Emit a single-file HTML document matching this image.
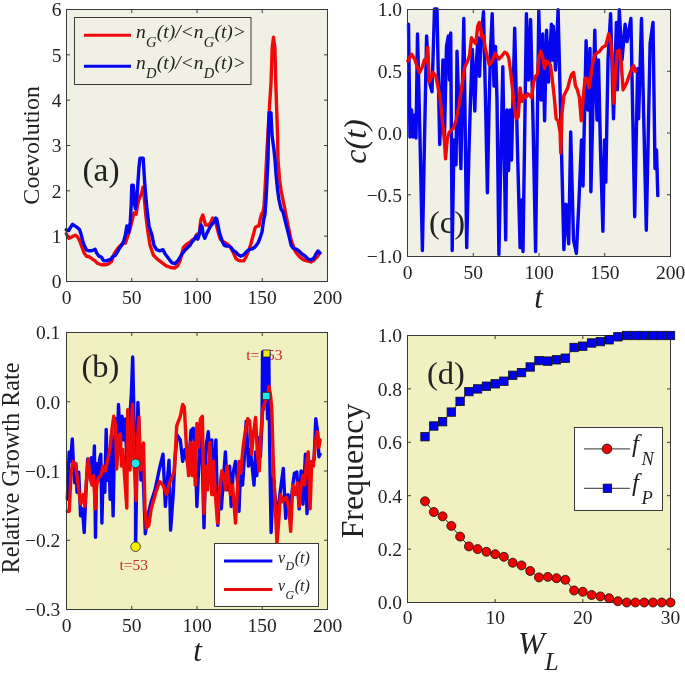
<!DOCTYPE html>
<html><head><meta charset="utf-8"><style>
html,body{margin:0;padding:0;background:#fff;}
svg{display:block;will-change:transform;}
text{font-family:"Liberation Serif", serif;}
</style></head><body>
<svg width="685" height="675" viewBox="0 0 685 675">
<rect width="685" height="675" fill="#fff"/>
<rect x="66.5" y="9.5" width="261.0" height="272.0" fill="#f1f0e5"/>
<polyline points="66.3,233.7 68.7,238.3 71.0,237.5 73.3,236.0 75.7,235.2 78.0,237.5 79.6,240.7 81.9,246.9 84.2,253.1 86.5,256.2 89.7,257.0 92.8,259.3 95.1,260.9 97.4,263.2 101.3,264.8 105.2,264.8 108.3,264.0 111.4,261.7 114.5,253.1 117.7,248.4 120.8,245.3 123.9,241.4 125.4,243.2 127.5,236.8 129.7,230.3 131.8,221.7 134.0,213.1 136.1,214.2 137.6,204.5 139.4,198.1 141.5,193.8 143.0,187.3 144.1,195.9 145.8,215.3 148.0,232.5 150.1,245.4 153.3,255.0 157.6,259.4 161.9,262.6 166.2,265.8 170.5,267.5 174.8,268.0 177.6,265.8 180.2,260.4 183.4,247.5 186.7,244.3 190.0,242.2 192.3,239.9 194.7,238.3 197.0,234.4 199.3,232.9 200.9,219.7 202.8,215.0 204.3,220.4 205.6,225.1 207.9,225.1 210.2,223.5 212.6,218.1 214.1,220.4 215.7,222.0 217.2,228.2 218.8,234.4 220.3,239.1 222.7,241.4 225.8,243.0 228.9,245.3 231.2,248.4 233.5,253.1 235.9,258.5 238.2,260.1 240.5,260.9 243.7,260.9 246.0,257.0 248.3,251.5 250.7,244.5 253.0,236.0 255.3,227.4 257.7,225.9 259.0,226.0 260.0,220.0 261.6,214.0 263.0,212.0 264.0,206.0 265.0,190.0 266.0,170.0 267.0,150.0 267.8,136.8 269.6,104.7 271.0,83.4 272.2,47.8 273.5,37.1 274.9,47.8 275.8,83.4 276.7,110.0 277.6,136.8 278.0,160.0 279.6,180.0 281.0,190.0 283.0,200.0 285.0,210.0 287.0,220.0 289.0,230.0 291.0,240.0 293.0,245.0 295.0,251.0 298.0,255.0 301.0,258.0 304.0,260.0 308.0,261.0 311.0,262.0 314.0,260.0 317.0,257.0 319.0,254.0" fill="none" stroke="#ee0a0a" stroke-width="3.4" stroke-linejoin="round" stroke-linecap="round" />
<polyline points="66.3,229.8 68.7,230.5 71.0,226.7 72.6,224.3 74.9,225.9 77.2,227.4 79.6,229.8 81.1,234.4 82.7,240.7 84.2,245.3 86.5,250.0 88.9,250.8 91.2,250.8 93.5,250.0 95.1,249.2 96.7,253.1 99.0,256.2 101.3,257.0 103.7,260.9 106.0,260.9 108.3,260.1 110.7,259.3 113.0,256.2 115.3,255.4 117.7,251.5 120.0,247.5 123.2,243.2 125.4,234.6 126.9,226.0 128.6,232.5 130.3,221.7 131.2,204.5 131.8,185.2 133.3,185.2 134.6,204.5 135.5,208.8 137.2,193.8 138.9,168.0 140.0,158.3 143.2,158.3 144.7,183.0 146.9,208.8 149.0,226.0 151.8,234.6 154.0,245.4 156.6,249.7 159.8,250.8 163.0,249.7 165.2,254.0 168.4,258.3 171.6,262.6 174.8,263.7 178.1,260.4 181.3,255.0 184.5,250.8 187.7,247.5 190.0,245.3 192.3,241.4 194.7,239.1 196.2,236.0 197.8,239.1 199.3,234.4 200.9,225.1 202.1,226.7 203.2,234.4 204.8,238.3 206.3,234.4 207.9,231.3 210.2,226.7 212.6,223.5 214.1,222.0 215.7,218.1 216.7,218.9 218.0,225.1 219.5,232.9 221.1,237.5 222.7,242.2 224.2,245.3 226.5,246.1 228.9,246.1 231.2,247.7 233.5,250.8 235.9,252.3 238.2,254.7 240.5,256.2 242.9,255.4 245.2,253.1 247.5,250.8 249.9,249.2 252.0,249.0 255.0,247.0 258.0,243.0 260.0,238.0 262.0,232.0 263.6,220.0 265.0,214.0 266.0,200.0 267.0,180.0 268.0,160.0 268.5,130.0 269.2,112.7 271.0,112.7 271.5,125.0 272.2,136.8 274.0,150.0 275.0,160.0 276.0,174.0 277.6,190.0 279.0,200.0 281.0,209.0 283.0,212.0 285.0,220.0 287.0,228.0 289.0,236.0 291.0,245.0 293.0,248.0 296.0,249.0 299.0,251.0 302.0,254.0 305.0,256.0 308.0,259.0 311.0,260.0 314.0,258.0 316.0,254.0 318.0,251.0 320.0,253.0" fill="none" stroke="#0505f0" stroke-width="3.4" stroke-linejoin="round" stroke-linecap="round" />
<text x="101" y="180.7" font-size="33.5" text-anchor="middle" fill="#222"  >(a)</text>
<rect x="74.5" y="17.5" width="176.5" height="67" fill="#f1f0e5" stroke="#3a3a3a" stroke-width="1"/>
<line x1="84" y1="35.3" x2="131" y2="35.3" stroke="#ee0a0a" stroke-width="3"/>
<line x1="84" y1="66.3" x2="131" y2="66.3" stroke="#0505f0" stroke-width="3"/>
<text x="136" y="37.8" font-size="19.5" font-style="italic" fill="#222">n<tspan font-size="14.5" dy="9.5" dx="0.3">G</tspan><tspan dy="-9.5" dx="0.2">(t)/&lt;n</tspan><tspan font-size="14.5" dy="9.5" dx="0.3">G</tspan><tspan dy="-9.5" dx="0.2">(t)&gt;</tspan></text>
<text x="136" y="68.8" font-size="19.5" font-style="italic" fill="#222">n<tspan font-size="14.5" dy="9.5" dx="0.3">D</tspan><tspan dy="-9.5" dx="0.2">(t)/&lt;n</tspan><tspan font-size="14.5" dy="9.5" dx="0.3">D</tspan><tspan dy="-9.5" dx="0.2">(t)&gt;</tspan></text>
<rect x="66.5" y="9.5" width="261.0" height="272.0" fill="none" stroke="#3a3a3a" stroke-width="1"/><line x1="131.75" y1="281.5" x2="131.75" y2="278.0" stroke="#3a3a3a" stroke-width="1"/><line x1="131.75" y1="9.5" x2="131.75" y2="13.0" stroke="#3a3a3a" stroke-width="1"/><line x1="197.0" y1="281.5" x2="197.0" y2="278.0" stroke="#3a3a3a" stroke-width="1"/><line x1="197.0" y1="9.5" x2="197.0" y2="13.0" stroke="#3a3a3a" stroke-width="1"/><line x1="262.25" y1="281.5" x2="262.25" y2="278.0" stroke="#3a3a3a" stroke-width="1"/><line x1="262.25" y1="9.5" x2="262.25" y2="13.0" stroke="#3a3a3a" stroke-width="1"/><line x1="66.5" y1="236.16666666666666" x2="70.0" y2="236.16666666666666" stroke="#3a3a3a" stroke-width="1"/><line x1="327.5" y1="236.16666666666666" x2="324.0" y2="236.16666666666666" stroke="#3a3a3a" stroke-width="1"/><line x1="66.5" y1="190.83333333333331" x2="70.0" y2="190.83333333333331" stroke="#3a3a3a" stroke-width="1"/><line x1="327.5" y1="190.83333333333331" x2="324.0" y2="190.83333333333331" stroke="#3a3a3a" stroke-width="1"/><line x1="66.5" y1="145.5" x2="70.0" y2="145.5" stroke="#3a3a3a" stroke-width="1"/><line x1="327.5" y1="145.5" x2="324.0" y2="145.5" stroke="#3a3a3a" stroke-width="1"/><line x1="66.5" y1="100.16666666666666" x2="70.0" y2="100.16666666666666" stroke="#3a3a3a" stroke-width="1"/><line x1="327.5" y1="100.16666666666666" x2="324.0" y2="100.16666666666666" stroke="#3a3a3a" stroke-width="1"/><line x1="66.5" y1="54.83333333333334" x2="70.0" y2="54.83333333333334" stroke="#3a3a3a" stroke-width="1"/><line x1="327.5" y1="54.83333333333334" x2="324.0" y2="54.83333333333334" stroke="#3a3a3a" stroke-width="1"/>
<text x="66.5" y="303.7" font-size="19.5" text-anchor="middle" fill="#222"  >0</text>
<text x="131.8" y="303.7" font-size="19.5" text-anchor="middle" fill="#222"  >50</text>
<text x="197.0" y="303.7" font-size="19.5" text-anchor="middle" fill="#222"  >100</text>
<text x="262.2" y="303.7" font-size="19.5" text-anchor="middle" fill="#222"  >150</text>
<text x="327.5" y="303.7" font-size="19.5" text-anchor="middle" fill="#222"  >200</text>
<text x="61.5" y="288.3" font-size="19.5" text-anchor="end" fill="#222"  >0</text>
<text x="61.5" y="243.0" font-size="19.5" text-anchor="end" fill="#222"  >1</text>
<text x="61.5" y="197.6" font-size="19.5" text-anchor="end" fill="#222"  >2</text>
<text x="61.5" y="152.3" font-size="19.5" text-anchor="end" fill="#222"  >3</text>
<text x="61.5" y="107.0" font-size="19.5" text-anchor="end" fill="#222"  >4</text>
<text x="61.5" y="61.6" font-size="19.5" text-anchor="end" fill="#222"  >5</text>
<text x="61.5" y="16.3" font-size="19.5" text-anchor="end" fill="#222"  >6</text>
<text transform="translate(38.8,145.3) rotate(-90)" font-size="24" text-anchor="middle" fill="#222">Coevolution</text>
<rect x="407.5" y="9.5" width="263.0" height="247.0" fill="#f1f0e5"/>
<text x="447" y="232.5" font-size="32.5" text-anchor="middle" fill="#222"  >(c)</text>
<polyline points="408.5,24.3 410.0,137.0 411.5,110.0 413.0,137.0 414.5,115.0 416.0,138.0 417.5,33.9 420.0,138.0 422.4,250.5 424.5,140.0 426.6,35.9 429.0,80.0 432.0,91.8 434.5,9.0 437.0,9.0 439.7,144.5 443.0,60.0 444.5,135.0 446.5,46.5 448.4,35.9 449.5,80.0 450.7,33.0 452.2,250.5 454.0,140.0 456.1,164.7 457.0,51.3 460.9,168.6 463.8,18.5 466.7,247.6 469.0,150.0 470.5,100.0 472.3,49.4 474.8,111.0 476.5,60.0 478.0,37.8 479.5,76.3 481.0,40.0 483.5,11.7 485.5,100.0 487.4,192.7 489.0,110.0 490.5,50.0 492.2,13.7 494.0,86.0 495.5,46.5 497.0,100.0 498.9,254.4 501.0,150.0 502.8,66.7 505.7,239.9 507.0,110.0 508.6,170.5 510.0,110.0 511.5,160.0 514.7,28.1 517.5,150.0 520.1,247.6 521.5,200.0 523.0,251.5 526.4,13.7 528.5,80.0 530.6,19.5 533.0,120.0 535.6,251.5 538.8,10.8 541.0,100.0 542.7,33.9 544.6,120.7 546.6,30.1 548.5,82.0 551.4,24.3 552.4,60.0 553.3,26.2 555.5,70.0 558.1,9.8 561.0,130.0 563.9,249.6 565.9,204.2 568.7,243.8 570.7,131.9 573.5,240.0 576.4,253.4 579.0,200.0 581.5,140.0 583.0,186.0 586.1,40.7 588.0,110.0 590.0,48.4 590.9,191.7 594.8,30.1 597.0,120.0 598.5,60.0 600.5,150.0 602.9,231.2 604.5,140.0 605.8,182.1 608.0,60.0 610.6,13.7 613.5,118.8 616.4,22.4 617.4,89.8 619.3,9.8 622.0,60.0 625.1,24.3 627.0,41.6 630.9,18.5 634.7,216.8 637.6,68.6 638.6,118.8 641.5,18.5 646.3,230.3 650.1,43.6 653.0,22.4 655.0,168.6 656.5,150.0 657.8,195.6" fill="none" stroke="#0505f0" stroke-width="3.4" stroke-linejoin="round" stroke-linecap="round" />
<polyline points="407.9,60.9 411.7,54.2 414.6,59.0 416.6,64.8 419.5,72.5 422.4,66.7 424.3,60.0 426.2,61.9 427.8,47.4 429.1,82.1 431.0,78.3 433.0,72.5 435.9,76.3 437.8,86.0 439.7,95.6 441.6,113.0 443.6,132.3 444.5,141.6 445.5,158.9 447.4,137.7 449.3,132.3 453.2,128.4 456.1,120.7 459.0,105.3 461.9,86.0 464.8,66.7 467.7,60.9 469.6,55.1 471.5,37.8 473.9,41.6 475.8,43.6 477.7,26.2 479.3,22.4 480.6,28.1 482.0,37.8 483.5,35.9 485.4,49.4 487.4,57.1 489.3,64.8 491.2,62.8 493.1,59.0 495.1,53.2 497.0,56.1 498.9,59.0 501.8,56.1 504.7,52.2 506.6,53.2 508.6,57.1 510.5,70.6 512.4,87.9 514.4,107.2 516.3,118.8 518.2,116.8 520.1,87.9 522.1,101.4 524.0,95.6 525.9,97.6 527.8,93.7 529.8,95.6 531.7,97.6 533.6,82.1 535.6,76.3 537.5,74.4 538.9,57.1 540.8,51.3 542.7,57.1 544.6,68.6 546.6,60.9 548.5,62.8 550.4,64.8 552.4,80.2 554.3,97.6 556.2,118.8 558.1,120.7 560.1,132.3 560.8,153.0 562.0,113.0 563.9,95.6 565.9,91.8 567.8,87.9 569.7,80.2 571.6,74.4 573.6,72.5 575.5,86.0 577.4,89.8 579.4,97.6 581.3,120.7 583.2,97.6 585.1,78.3 587.1,78.3 589.0,87.9 590.9,76.3 592.8,62.8 594.8,55.1 596.7,53.2 599.6,51.3 602.5,47.4 605.8,45.5 608.7,33.9 610.6,39.7 612.5,62.8 613.9,103.3 615.4,76.3 617.4,51.3 619.3,50.3 621.2,62.8 623.1,89.8 625.1,86.0 627.0,82.1 628.9,76.3 631.8,68.6 633.7,65.7 635.7,71.5" fill="none" stroke="#ee0a0a" stroke-width="3.4" stroke-linejoin="round" stroke-linecap="round" />
<rect x="407.5" y="9.5" width="263.0" height="247.0" fill="none" stroke="#3a3a3a" stroke-width="1"/><line x1="473.25" y1="256.5" x2="473.25" y2="253.0" stroke="#3a3a3a" stroke-width="1"/><line x1="473.25" y1="9.5" x2="473.25" y2="13.0" stroke="#3a3a3a" stroke-width="1"/><line x1="539.0" y1="256.5" x2="539.0" y2="253.0" stroke="#3a3a3a" stroke-width="1"/><line x1="539.0" y1="9.5" x2="539.0" y2="13.0" stroke="#3a3a3a" stroke-width="1"/><line x1="604.75" y1="256.5" x2="604.75" y2="253.0" stroke="#3a3a3a" stroke-width="1"/><line x1="604.75" y1="9.5" x2="604.75" y2="13.0" stroke="#3a3a3a" stroke-width="1"/><line x1="407.5" y1="194.75" x2="411.0" y2="194.75" stroke="#3a3a3a" stroke-width="1"/><line x1="670.5" y1="194.75" x2="667.0" y2="194.75" stroke="#3a3a3a" stroke-width="1"/><line x1="407.5" y1="133.0" x2="411.0" y2="133.0" stroke="#3a3a3a" stroke-width="1"/><line x1="670.5" y1="133.0" x2="667.0" y2="133.0" stroke="#3a3a3a" stroke-width="1"/><line x1="407.5" y1="71.25" x2="411.0" y2="71.25" stroke="#3a3a3a" stroke-width="1"/><line x1="670.5" y1="71.25" x2="667.0" y2="71.25" stroke="#3a3a3a" stroke-width="1"/>
<text x="407.5" y="279" font-size="19.5" text-anchor="middle" fill="#222"  >0</text>
<text x="473.2" y="279" font-size="19.5" text-anchor="middle" fill="#222"  >50</text>
<text x="539.0" y="279" font-size="19.5" text-anchor="middle" fill="#222"  >100</text>
<text x="604.8" y="279" font-size="19.5" text-anchor="middle" fill="#222"  >150</text>
<text x="670.5" y="279" font-size="19.5" text-anchor="middle" fill="#222"  >200</text>
<text x="402" y="263.3" font-size="19.5" text-anchor="end" fill="#222"  >&#8722;1.0</text>
<text x="402" y="201.6" font-size="19.5" text-anchor="end" fill="#222"  >&#8722;0.5</text>
<text x="402" y="139.8" font-size="19.5" text-anchor="end" fill="#222"  >0.0</text>
<text x="402" y="78.0" font-size="19.5" text-anchor="end" fill="#222"  >0.5</text>
<text x="402" y="16.3" font-size="19.5" text-anchor="end" fill="#222"  >1.0</text>
<text transform="translate(365.5,141.5) rotate(-90)" font-size="32" font-style="italic" text-anchor="middle" fill="#222">c(t)</text>
<text x="538.5" y="308" font-size="31" text-anchor="middle" fill="#222" font-style="italic" >t</text>
<rect x="66.5" y="332.5" width="261.0" height="277.0" fill="#f1f0c1"/>
<text x="100.5" y="376.8" font-size="32.5" text-anchor="middle" fill="#222"  >(b)</text>
<text x="264.4" y="360.2" font-size="15.5" text-anchor="middle" fill="#c62828">t=153</text>
<polyline points="67.3,499.3 69.2,451.9 70.6,461.4 72.3,438.9 73.5,466.1 74.7,482.7 75.9,463.8 77.0,492.2 78.7,472.1 80.6,515.9 82.5,508.8 84.2,532.5 85.8,494.6 87.7,459.0 89.6,473.3 91.3,457.8 92.9,482.7 94.4,446.0 95.5,537.3 96.7,463.8 97.9,480.4 99.6,459.0 100.8,454.3 101.9,523.0 103.1,473.3 104.8,492.2 106.2,429.4 107.4,480.4 109.1,461.4 110.2,499.3 111.4,435.3 113.1,515.9 114.3,454.3 115.7,418.7 117.4,447.2 118.5,404.5 120.4,444.8 122.1,416.3 124.0,440.0 125.5,419.0 127.0,470.0 129.0,430.0 131.3,395.0 132.7,356.9 134.0,420.0 135.5,463.3 135.6,546.7 136.8,470.0 137.9,402.4 139.5,440.0 141.0,480.0 143.0,470.0 145.3,533.7 148.0,515.0 151.2,501.7 155.0,490.0 159.5,468.5 163.0,454.2 165.4,506.4 169.0,460.2 170.6,530.1 173.2,494.6 174.8,460.0 177.2,435.3 180.3,440.0 182.7,461.4 185.0,449.5 188.6,468.5 191.0,430.6 193.3,428.2 195.7,466.1 196.9,506.5 199.3,454.3 201.6,432.9 204.0,527.8 205.9,447.2 208.3,431.8 209.9,461.4 211.8,440.0 213.5,494.6 215.9,440.0 217.8,525.4 219.4,494.6 221.3,508.8 223.0,485.1 225.4,451.9 227.2,489.9 229.6,466.1 231.2,506.5 233.1,473.3 235.5,461.4 237.4,480.4 239.0,511.2 240.7,466.1 242.6,485.1 244.5,454.3 246.2,421.1 247.3,440.0 248.5,466.1 250.2,449.5 252.1,466.1 254.0,485.1 255.6,451.9 256.8,475.6 258.7,437.7 260.4,456.7 262.0,423.5 262.6,352.0 263.5,409.2 264.5,352.0 265.5,400.0 266.5,352.0 267.5,418.7 268.8,352.0 269.6,442.4 271.1,532.5 273.4,478.0 275.8,506.5 277.4,513.6 280.2,492.2 283.3,468.5 285.7,518.3 288.0,494.6 290.4,508.8 292.8,485.1 294.4,473.3 296.8,472.1 299.2,508.8 301.1,470.9 303.0,504.1 305.4,454.3 307.0,513.6 309.4,461.4 311.8,466.1 314.1,459.0 315.8,418.7 317.7,432.9 318.9,456.7 320.1,454.3" fill="none" stroke="#0505f0" stroke-width="3.4" stroke-linejoin="round" stroke-linecap="round" />
<polyline points="67.3,511.2 69.2,511.2 71.1,473.3 73.0,461.4 75.4,463.8 77.0,475.6 78.7,489.9 80.6,504.1 83.0,494.6 84.9,506.5 86.5,480.4 88.2,459.0 90.1,478.0 92.0,485.1 93.6,475.6 95.3,508.8 96.7,485.1 98.4,478.0 100.8,475.6 103.1,466.1 105.5,470.9 107.9,459.0 110.2,447.2 112.1,428.2 113.8,416.3 115.7,425.8 116.6,469.0 119.0,435.3 120.3,433.9 121.5,466.0 122.8,449.5 124.5,475.0 126.8,508.0 127.7,409.8 130.0,470.0 132.4,404.3 134.0,460.0 136.1,500.6 137.5,440.0 138.9,417.2 140.5,470.0 142.0,450.0 143.5,443.1 145.0,510.0 146.3,528.0 148.8,525.4 151.2,508.8 155.9,492.2 159.5,481.5 163.0,485.1 166.6,494.5 169.7,482.7 172.5,475.6 174.4,470.9 176.7,425.8 180.3,416.3 182.7,404.5 184.3,406.9 186.2,442.4 188.6,475.6 190.5,442.4 192.2,475.6 193.8,442.4 195.2,485.1 196.9,423.5 198.6,447.2 200.5,418.7 202.4,416.3 204.0,513.6 205.9,466.1 207.6,489.9 209.9,442.4 211.8,494.6 213.5,461.4 215.4,494.6 217.5,523.0 219.4,489.9 221.8,470.9 223.7,475.6 225.4,489.9 227.0,466.1 228.9,480.4 230.3,494.6 232.6,485.1 235.5,523.0 237.4,489.9 239.0,461.4 240.7,473.3 243.1,447.2 245.4,430.6 247.8,418.7 249.7,421.1 251.6,454.3 253.5,432.9 255.6,417.5 257.3,451.9 259.2,470.9 261.1,430.6 262.8,409.2 265.1,402.1 267.5,395.0 269.0,386.5 270.5,395.0 271.8,409.2 273.4,466.1 275.8,518.3 277.0,543.2 278.6,523.0 280.5,494.6 282.9,501.7 284.0,499.3 286.4,497.0 288.8,508.8 290.7,531.4 292.8,485.1 295.2,494.6 297.5,482.7 299.2,506.5 301.1,485.1 303.0,475.6 304.6,485.1 306.3,463.8 308.2,451.9 310.1,508.8 311.8,461.4 313.4,466.1 315.3,442.4 317.2,431.8 318.9,447.2 320.1,440.0" fill="none" stroke="#ee0a0a" stroke-width="3.4" stroke-linejoin="round" stroke-linecap="round" />
<rect x="263" y="350" width="7" height="7" fill="#f5f000" stroke="#222" stroke-width="0.8"/>
<rect x="262.6" y="392.3" width="7.4" height="7.4" fill="#20e8e8" stroke="#222" stroke-width="0.8"/>
<circle cx="135.6" cy="463.3" r="4.4" fill="#20e8e8" stroke="#222" stroke-width="0.8"/>
<circle cx="135.6" cy="546.7" r="4.8" fill="#f5f000" stroke="#222" stroke-width="0.8"/>
<text x="133.7" y="570.3" font-size="15.5" text-anchor="middle" fill="#c62828">t=53</text>
<rect x="214.5" y="543.5" width="104" height="63" fill="#ffffff" stroke="#3a3a3a" stroke-width="1"/>
<line x1="224" y1="561.1" x2="272.4" y2="561.1" stroke="#0505f0" stroke-width="3"/>
<line x1="224" y1="589.5" x2="272.4" y2="589.5" stroke="#ee0a0a" stroke-width="3"/>
<text x="278" y="562.5" font-size="16" font-style="italic" fill="#222">v<tspan font-size="12" dy="7.5" dx="0.5">D</tspan><tspan dy="-7.5" dx="0.5">(t)</tspan></text>
<text x="278" y="591" font-size="16" font-style="italic" fill="#222">v<tspan font-size="12" dy="7.5" dx="0.5">G</tspan><tspan dy="-7.5" dx="0.5">(t)</tspan></text>
<rect x="66.5" y="332.5" width="261.0" height="277.0" fill="none" stroke="#3a3a3a" stroke-width="1"/><line x1="131.75" y1="609.5" x2="131.75" y2="606.0" stroke="#3a3a3a" stroke-width="1"/><line x1="131.75" y1="332.5" x2="131.75" y2="336.0" stroke="#3a3a3a" stroke-width="1"/><line x1="197.0" y1="609.5" x2="197.0" y2="606.0" stroke="#3a3a3a" stroke-width="1"/><line x1="197.0" y1="332.5" x2="197.0" y2="336.0" stroke="#3a3a3a" stroke-width="1"/><line x1="262.25" y1="609.5" x2="262.25" y2="606.0" stroke="#3a3a3a" stroke-width="1"/><line x1="262.25" y1="332.5" x2="262.25" y2="336.0" stroke="#3a3a3a" stroke-width="1"/><line x1="66.5" y1="540.25" x2="70.0" y2="540.25" stroke="#3a3a3a" stroke-width="1"/><line x1="327.5" y1="540.25" x2="324.0" y2="540.25" stroke="#3a3a3a" stroke-width="1"/><line x1="66.5" y1="471.0" x2="70.0" y2="471.0" stroke="#3a3a3a" stroke-width="1"/><line x1="327.5" y1="471.0" x2="324.0" y2="471.0" stroke="#3a3a3a" stroke-width="1"/><line x1="66.5" y1="401.75" x2="70.0" y2="401.75" stroke="#3a3a3a" stroke-width="1"/><line x1="327.5" y1="401.75" x2="324.0" y2="401.75" stroke="#3a3a3a" stroke-width="1"/>
<text x="66.5" y="632" font-size="19.5" text-anchor="middle" fill="#222"  >0</text>
<text x="131.8" y="632" font-size="19.5" text-anchor="middle" fill="#222"  >50</text>
<text x="197.0" y="632" font-size="19.5" text-anchor="middle" fill="#222"  >100</text>
<text x="262.2" y="632" font-size="19.5" text-anchor="middle" fill="#222"  >150</text>
<text x="327.5" y="632" font-size="19.5" text-anchor="middle" fill="#222"  >200</text>
<text x="60.3" y="616.3" font-size="19.5" text-anchor="end" fill="#222"  >&#8722;0.3</text>
<text x="60.3" y="547.0" font-size="19.5" text-anchor="end" fill="#222"  >&#8722;0.2</text>
<text x="60.3" y="477.8" font-size="19.5" text-anchor="end" fill="#222"  >&#8722;0.1</text>
<text x="60.3" y="408.6" font-size="19.5" text-anchor="end" fill="#222"  >0.0</text>
<text x="60.3" y="339.3" font-size="19.5" text-anchor="end" fill="#222"  >0.1</text>
<text transform="translate(19.3,468) rotate(-90)" font-size="24.2" text-anchor="middle" fill="#222">Relative Growth Rate</text>
<text x="197.5" y="661" font-size="31" text-anchor="middle" fill="#222" font-style="italic" >t</text>
<rect x="407.5" y="335.5" width="263.0" height="267.0" fill="#f1f0c1"/>
<text x="446" y="383.5" font-size="32.5" text-anchor="middle" fill="#222"  >(d)</text>
<rect x="407.5" y="335.5" width="263.0" height="267.0" fill="none" stroke="#3a3a3a" stroke-width="1"/><line x1="495.1666666666667" y1="602.5" x2="495.1666666666667" y2="599.0" stroke="#3a3a3a" stroke-width="1"/><line x1="495.1666666666667" y1="335.5" x2="495.1666666666667" y2="339.0" stroke="#3a3a3a" stroke-width="1"/><line x1="582.8333333333334" y1="602.5" x2="582.8333333333334" y2="599.0" stroke="#3a3a3a" stroke-width="1"/><line x1="582.8333333333334" y1="335.5" x2="582.8333333333334" y2="339.0" stroke="#3a3a3a" stroke-width="1"/><line x1="407.5" y1="549.1" x2="411.0" y2="549.1" stroke="#3a3a3a" stroke-width="1"/><line x1="670.5" y1="549.1" x2="667.0" y2="549.1" stroke="#3a3a3a" stroke-width="1"/><line x1="407.5" y1="495.7" x2="411.0" y2="495.7" stroke="#3a3a3a" stroke-width="1"/><line x1="670.5" y1="495.7" x2="667.0" y2="495.7" stroke="#3a3a3a" stroke-width="1"/><line x1="407.5" y1="442.3" x2="411.0" y2="442.3" stroke="#3a3a3a" stroke-width="1"/><line x1="670.5" y1="442.3" x2="667.0" y2="442.3" stroke="#3a3a3a" stroke-width="1"/><line x1="407.5" y1="388.9" x2="411.0" y2="388.9" stroke="#3a3a3a" stroke-width="1"/><line x1="670.5" y1="388.9" x2="667.0" y2="388.9" stroke="#3a3a3a" stroke-width="1"/>
<polyline points="425.0,436.7 433.8,426.0 442.6,421.7 451.3,412.1 460.1,401.4 468.9,391.6 477.6,388.9 486.4,386.2 495.2,383.8 503.9,381.2 512.7,375.3 521.5,372.6 530.2,367.0 539.0,360.6 547.8,361.1 556.5,359.8 565.3,358.2 574.1,347.5 582.8,346.2 591.6,343.0 600.4,341.6 609.1,339.8 617.9,336.8 626.7,335.5 635.4,335.5 644.2,335.5 653.0,335.5 661.7,335.5 670.5,335.5" fill="none" stroke="#222" stroke-width="1" stroke-linejoin="round" stroke-linecap="round" />
<polyline points="425.0,501.3 433.8,512.0 442.6,516.3 451.3,525.9 460.1,536.6 468.9,546.4 477.6,549.1 486.4,551.8 495.2,554.2 503.9,556.8 512.7,562.7 521.5,565.4 530.2,571.0 539.0,577.4 547.8,576.9 556.5,578.2 565.3,579.8 574.1,590.5 582.8,591.8 591.6,595.0 600.4,596.4 609.1,598.2 617.9,601.2 626.7,602.5 635.4,602.5 644.2,602.5 653.0,602.5 661.7,602.5 670.5,602.5" fill="none" stroke="#222" stroke-width="1" stroke-linejoin="round" stroke-linecap="round" />
<rect x="420.8" y="432.5" width="8.4" height="8.4" fill="#0000f0" stroke="#111" stroke-width="0.8"/>
<rect x="429.6" y="421.8" width="8.4" height="8.4" fill="#0000f0" stroke="#111" stroke-width="0.8"/>
<rect x="438.4" y="417.5" width="8.4" height="8.4" fill="#0000f0" stroke="#111" stroke-width="0.8"/>
<rect x="447.1" y="407.9" width="8.4" height="8.4" fill="#0000f0" stroke="#111" stroke-width="0.8"/>
<rect x="455.9" y="397.2" width="8.4" height="8.4" fill="#0000f0" stroke="#111" stroke-width="0.8"/>
<rect x="464.7" y="387.4" width="8.4" height="8.4" fill="#0000f0" stroke="#111" stroke-width="0.8"/>
<rect x="473.4" y="384.7" width="8.4" height="8.4" fill="#0000f0" stroke="#111" stroke-width="0.8"/>
<rect x="482.2" y="382.0" width="8.4" height="8.4" fill="#0000f0" stroke="#111" stroke-width="0.8"/>
<rect x="491.0" y="379.6" width="8.4" height="8.4" fill="#0000f0" stroke="#111" stroke-width="0.8"/>
<rect x="499.7" y="377.0" width="8.4" height="8.4" fill="#0000f0" stroke="#111" stroke-width="0.8"/>
<rect x="508.5" y="371.1" width="8.4" height="8.4" fill="#0000f0" stroke="#111" stroke-width="0.8"/>
<rect x="517.3" y="368.4" width="8.4" height="8.4" fill="#0000f0" stroke="#111" stroke-width="0.8"/>
<rect x="526.0" y="362.8" width="8.4" height="8.4" fill="#0000f0" stroke="#111" stroke-width="0.8"/>
<rect x="534.8" y="356.4" width="8.4" height="8.4" fill="#0000f0" stroke="#111" stroke-width="0.8"/>
<rect x="543.6" y="356.9" width="8.4" height="8.4" fill="#0000f0" stroke="#111" stroke-width="0.8"/>
<rect x="552.3" y="355.6" width="8.4" height="8.4" fill="#0000f0" stroke="#111" stroke-width="0.8"/>
<rect x="561.1" y="354.0" width="8.4" height="8.4" fill="#0000f0" stroke="#111" stroke-width="0.8"/>
<rect x="569.9" y="343.3" width="8.4" height="8.4" fill="#0000f0" stroke="#111" stroke-width="0.8"/>
<rect x="578.6" y="342.0" width="8.4" height="8.4" fill="#0000f0" stroke="#111" stroke-width="0.8"/>
<rect x="587.4" y="338.8" width="8.4" height="8.4" fill="#0000f0" stroke="#111" stroke-width="0.8"/>
<rect x="596.2" y="337.4" width="8.4" height="8.4" fill="#0000f0" stroke="#111" stroke-width="0.8"/>
<rect x="604.9" y="335.6" width="8.4" height="8.4" fill="#0000f0" stroke="#111" stroke-width="0.8"/>
<rect x="613.7" y="332.6" width="8.4" height="8.4" fill="#0000f0" stroke="#111" stroke-width="0.8"/>
<rect x="622.5" y="331.3" width="8.4" height="8.4" fill="#0000f0" stroke="#111" stroke-width="0.8"/>
<rect x="631.2" y="331.3" width="8.4" height="8.4" fill="#0000f0" stroke="#111" stroke-width="0.8"/>
<rect x="640.0" y="331.3" width="8.4" height="8.4" fill="#0000f0" stroke="#111" stroke-width="0.8"/>
<rect x="648.8" y="331.3" width="8.4" height="8.4" fill="#0000f0" stroke="#111" stroke-width="0.8"/>
<rect x="657.5" y="331.3" width="8.4" height="8.4" fill="#0000f0" stroke="#111" stroke-width="0.8"/>
<rect x="666.3" y="331.3" width="8.4" height="8.4" fill="#0000f0" stroke="#111" stroke-width="0.8"/>
<circle cx="425.0" cy="501.3" r="4.5" fill="#f00000" stroke="#111" stroke-width="0.8"/>
<circle cx="433.8" cy="512.0" r="4.5" fill="#f00000" stroke="#111" stroke-width="0.8"/>
<circle cx="442.6" cy="516.3" r="4.5" fill="#f00000" stroke="#111" stroke-width="0.8"/>
<circle cx="451.3" cy="525.9" r="4.5" fill="#f00000" stroke="#111" stroke-width="0.8"/>
<circle cx="460.1" cy="536.6" r="4.5" fill="#f00000" stroke="#111" stroke-width="0.8"/>
<circle cx="468.9" cy="546.4" r="4.5" fill="#f00000" stroke="#111" stroke-width="0.8"/>
<circle cx="477.6" cy="549.1" r="4.5" fill="#f00000" stroke="#111" stroke-width="0.8"/>
<circle cx="486.4" cy="551.8" r="4.5" fill="#f00000" stroke="#111" stroke-width="0.8"/>
<circle cx="495.2" cy="554.2" r="4.5" fill="#f00000" stroke="#111" stroke-width="0.8"/>
<circle cx="503.9" cy="556.8" r="4.5" fill="#f00000" stroke="#111" stroke-width="0.8"/>
<circle cx="512.7" cy="562.7" r="4.5" fill="#f00000" stroke="#111" stroke-width="0.8"/>
<circle cx="521.5" cy="565.4" r="4.5" fill="#f00000" stroke="#111" stroke-width="0.8"/>
<circle cx="530.2" cy="571.0" r="4.5" fill="#f00000" stroke="#111" stroke-width="0.8"/>
<circle cx="539.0" cy="577.4" r="4.5" fill="#f00000" stroke="#111" stroke-width="0.8"/>
<circle cx="547.8" cy="576.9" r="4.5" fill="#f00000" stroke="#111" stroke-width="0.8"/>
<circle cx="556.5" cy="578.2" r="4.5" fill="#f00000" stroke="#111" stroke-width="0.8"/>
<circle cx="565.3" cy="579.8" r="4.5" fill="#f00000" stroke="#111" stroke-width="0.8"/>
<circle cx="574.1" cy="590.5" r="4.5" fill="#f00000" stroke="#111" stroke-width="0.8"/>
<circle cx="582.8" cy="591.8" r="4.5" fill="#f00000" stroke="#111" stroke-width="0.8"/>
<circle cx="591.6" cy="595.0" r="4.5" fill="#f00000" stroke="#111" stroke-width="0.8"/>
<circle cx="600.4" cy="596.4" r="4.5" fill="#f00000" stroke="#111" stroke-width="0.8"/>
<circle cx="609.1" cy="598.2" r="4.5" fill="#f00000" stroke="#111" stroke-width="0.8"/>
<circle cx="617.9" cy="601.2" r="4.5" fill="#f00000" stroke="#111" stroke-width="0.8"/>
<circle cx="626.7" cy="602.5" r="4.5" fill="#f00000" stroke="#111" stroke-width="0.8"/>
<circle cx="635.4" cy="602.5" r="4.5" fill="#f00000" stroke="#111" stroke-width="0.8"/>
<circle cx="644.2" cy="602.5" r="4.5" fill="#f00000" stroke="#111" stroke-width="0.8"/>
<circle cx="653.0" cy="602.5" r="4.5" fill="#f00000" stroke="#111" stroke-width="0.8"/>
<circle cx="661.7" cy="602.5" r="4.5" fill="#f00000" stroke="#111" stroke-width="0.8"/>
<circle cx="670.5" cy="602.5" r="4.5" fill="#f00000" stroke="#111" stroke-width="0.8"/>
<rect x="574.5" y="427.5" width="88" height="83" fill="#ffffff" stroke="#3a3a3a" stroke-width="1"/>
<line x1="584" y1="448.9" x2="630" y2="448.9" stroke="#333" stroke-width="1"/>
<line x1="584" y1="488.3" x2="630" y2="488.3" stroke="#333" stroke-width="1"/>
<circle cx="607" cy="448.9" r="4.8" fill="#f00000" stroke="#111" stroke-width="0.8"/>
<rect x="603.2" y="484.1" width="8.4" height="8.4" fill="#0000f0" stroke="#111" stroke-width="0.8"/>
<text x="632" y="451.5" font-size="25" font-style="italic" fill="#222">f<tspan font-size="18.5" dy="13" dx="2.5">N</tspan></text>
<text x="632" y="491" font-size="25" font-style="italic" fill="#222">f<tspan font-size="18.5" dy="13" dx="2.5">P</tspan></text>
<text x="407.5" y="624.2" font-size="19.5" text-anchor="middle" fill="#222"  >0</text>
<text x="495.2" y="624.2" font-size="19.5" text-anchor="middle" fill="#222"  >10</text>
<text x="582.8" y="624.2" font-size="19.5" text-anchor="middle" fill="#222"  >20</text>
<text x="670.5" y="624.2" font-size="19.5" text-anchor="middle" fill="#222"  >30</text>
<text x="402" y="609.3" font-size="19.5" text-anchor="end" fill="#222"  >0.0</text>
<text x="402" y="555.9" font-size="19.5" text-anchor="end" fill="#222"  >0.2</text>
<text x="402" y="502.5" font-size="19.5" text-anchor="end" fill="#222"  >0.4</text>
<text x="402" y="449.1" font-size="19.5" text-anchor="end" fill="#222"  >0.6</text>
<text x="402" y="395.7" font-size="19.5" text-anchor="end" fill="#222"  >0.8</text>
<text x="402" y="342.3" font-size="19.5" text-anchor="end" fill="#222"  >1.0</text>
<text transform="translate(363,471) rotate(-90)" font-size="32" text-anchor="middle" fill="#222">Frequency</text>
<text x="518" y="653.5" font-size="32" font-style="italic" fill="#222">W<tspan font-size="25" dy="16">L</tspan></text>
</svg></body></html>
